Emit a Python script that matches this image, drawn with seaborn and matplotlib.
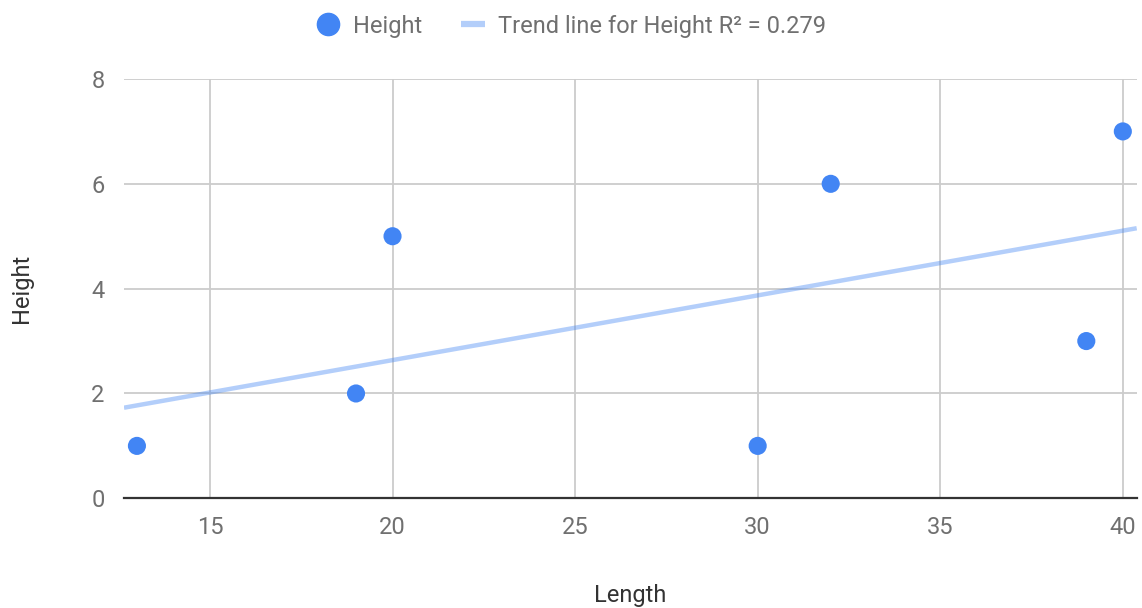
import matplotlib
matplotlib.use("Agg")
import matplotlib.pyplot as plt
from matplotlib.lines import Line2D
import seaborn as sns
import numpy as np
import pandas as pd

length = [13, 19, 20, 30, 32, 39, 40]
height = [1, 2, 5, 1, 6, 3, 7]
x_ticks = [15, 20, 25, 30, 35, 40]
y_ticks = [0, 2, 4, 6, 8]
series_label = "Height"
trend_label = "Trend line for Height R\u00b2 = 0.279"

df = pd.DataFrame({"Length": length, "Height": height})

sns.set_style("white")
plt.rcParams['font.family'] = ['Roboto', 'DejaVu Sans']

fig = plt.figure(figsize=(11.42, 6.08), dpi=100)
ax = fig.add_axes([124/1142, 1 - 498.3/608, (1136.7 - 124)/1142, (498.3 - 79)/608])

xmin, xmax = 12.646, 40.38
ax.set_xlim(xmin, xmax)
ax.set_ylim(0, 8)

blue = "#4285F4"
sns.regplot(data=df, x="Length", y="Height", scatter=False, ci=None, truncate=False,
            ax=ax, line_kws=dict(color=blue, alpha=0.4, lw=3.2, solid_capstyle='butt', zorder=2))
sns.scatterplot(data=df, x="Length", y="Height", ax=ax, color=blue, s=170,
                edgecolor='none', zorder=3, legend=False)
ax.set_xlim(xmin, xmax)
ax.set_ylim(0, 8)

ax.set_xticks(x_ticks)
ax.set_yticks(y_ticks)
ax.grid(True, color="#cccccc", lw=1.3, zorder=0)
ax.set_axisbelow(True)
for s in ["top", "right", "left"]:
    ax.spines[s].set_visible(False)
ax.spines["bottom"].set_color("#333333")
ax.spines["bottom"].set_linewidth(1.6)
ax.spines["bottom"].set_zorder(2.5)
ax.tick_params(axis='both', length=0, labelsize=17, labelcolor="#707070")
ax.tick_params(axis='x', pad=13)
ax.tick_params(axis='y', pad=14)

ax.set_xlabel("Length", fontsize=17, color="#333333", labelpad=32)
ax.set_ylabel("Height", fontsize=17, color="#333333", labelpad=42)

handles = [
    Line2D([], [], marker='o', ls='none', color=blue, markersize=16),
    Line2D([], [], color=blue, alpha=0.4, lw=4.5, solid_capstyle='butt'),
]
fig.legend(handles, [series_label, trend_label], loc='center', bbox_to_anchor=(0.5, 1 - 26/608),
           ncol=2, frameon=False, fontsize=17, labelcolor="#707070",
           handlelength=1.05, handletextpad=0.55, columnspacing=1.6)

fig.savefig("out.png", dpi=100)
